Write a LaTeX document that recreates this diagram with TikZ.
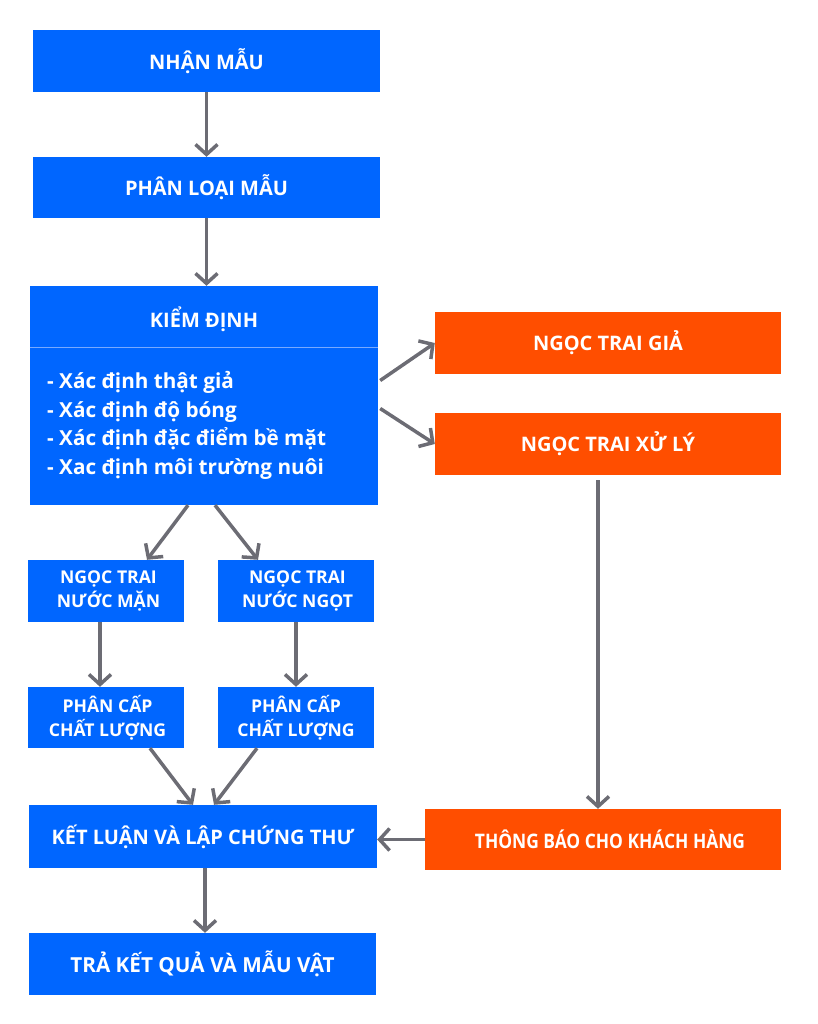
\documentclass[tikz,border=0pt]{standalone}
\usepackage{fontspec}
\setmainfont{Open Sans}
\newfontfamily\condfont{Open Sans}[FakeStretch=0.87]
\usetikzlibrary{arrows.meta,calc}
\definecolor{bl}{RGB}{0,102,255}
\definecolor{og}{RGB}{255,78,0}
\definecolor{ar}{RGB}{108,108,116}
\definecolor{sep}{RGB}{120,170,255}
\begin{document}
\begin{tikzpicture}[x=1pt,y=-1pt,
 box/.style={draw=none, inner sep=0pt, align=center, text=white, font=\fontsize{20}{24.5}\selectfont\bfseries},
 bbox/.style={box, fill=bl},
 obox/.style={box, fill=og},
 sbox/.style={bbox, minimum width=156pt, font=\fontsize{17.6}{24}\selectfont\bfseries},
 conn/.style={draw=ar, line width=3.5pt, -{Straight Barb[length=10pt,width=22pt,line width=3.5pt]}}]
\useasboundingbox (0,0) rectangle (817,1024);
\node[bbox, minimum width=347pt, minimum height=62pt] (n1) at (206.5,61) {NHẬN MẪU};
\node[bbox, minimum width=347pt, minimum height=61pt] (n2) at (206.5,187.5) {PHÂN LOẠI MẪU};
\node[bbox, minimum width=348pt, minimum height=219pt] (kd) at (204,395.5) {};
\node[box] (kdt) at (204,319) {KIỂM ĐỊNH};
\draw[sep, line width=1pt] ([yshift=-62pt]kd.north west) -- ([yshift=-62pt]kd.north east);
\node[box, anchor=west, align=left, font=\fontsize{20.7}{28.5}\selectfont\bfseries] (kdl) at (47,425.5) {- Xác định thật giả\\- Xác định độ bóng\\- Xác định đặc điểm bề mặt\\- Xac định môi trường nuôi};
\node[obox, minimum width=346pt, minimum height=62pt] (gia) at (608,343) {NGỌC TRAI GIẢ};
\node[obox, minimum width=346pt, minimum height=62pt] (xl) at (608,444) {NGỌC TRAI XỬ LÝ};
\node[sbox, minimum height=62pt] (man) at (106,591) {\hspace*{5pt}NGỌC TRAI\\\hspace*{5pt}NƯỚC MẶN};
\node[sbox, minimum height=62pt] (ngot) at (296,591) {\hspace*{3pt}NGỌC TRAI\\\hspace*{3pt}NƯỚC NGỌT};
\node[sbox, minimum height=61pt] (pc1) at (106,717.5) {\hspace*{3pt}PHÂN CẤP\\\hspace*{3pt}CHẤT LƯỢNG};
\node[sbox, minimum height=61pt] (pc2) at (296,717.5) {PHÂN CẤP\\CHẤT LƯỢNG};
\node[bbox, minimum width=348pt, minimum height=63pt] (kl) at (203,836.5) {KẾT LUẬN VÀ LẬP CHỨNG THƯ};
\node[obox, minimum width=356pt, minimum height=61pt, font=\fontsize{20}{24.5}\selectfont\condfont\bfseries] (tb) at (603,839.5) {\hspace*{14pt}THÔNG BÁO CHO KHÁCH HÀNG};
\node[bbox, minimum width=347pt, minimum height=62pt, font=\fontsize{20.7}{24.5}\selectfont\bfseries] (tra) at (202.5,964) {TRẢ KẾT QUẢ VÀ MẪU VẬT};
% connectors
\draw[conn] (n1.south) -- (n2.north);
\draw[conn] (n2.south) -- (n2.south |- kd.north);
\draw[conn] ([xshift=2pt,yshift=15pt]kd.east) -- (gia.west);
\draw[conn] ([xshift=2pt,yshift=-13pt]kd.east) -- (xl.west);
\draw[conn] ([xshift=-16pt]kd.south) -- ([xshift=41pt]man.north);
\draw[conn] ([xshift=11pt]kd.south) -- ([xshift=-38pt]ngot.north);
\draw[conn] ([xshift=-6pt]man.south) -- ([xshift=-6pt]pc1.north);
\draw[conn] (ngot.south) -- (pc2.north);
\draw[conn] ([xshift=44pt]pc1.south) -- ([xshift=-10pt]kl.north);
\draw[conn] ([xshift=-39pt]pc2.south) -- ([xshift=11pt]kl.north);
\draw[conn] ([xshift=-10pt,yshift=-5pt]xl.south) -- ([xshift=-5pt]tb.north);
\draw[conn] (tb.west) -- (tb.west -| kl.east);
\draw[conn] ([xshift=2pt]kl.south) -- ([xshift=2pt]kl.south |- tra.north);
\end{tikzpicture}
\end{document}
